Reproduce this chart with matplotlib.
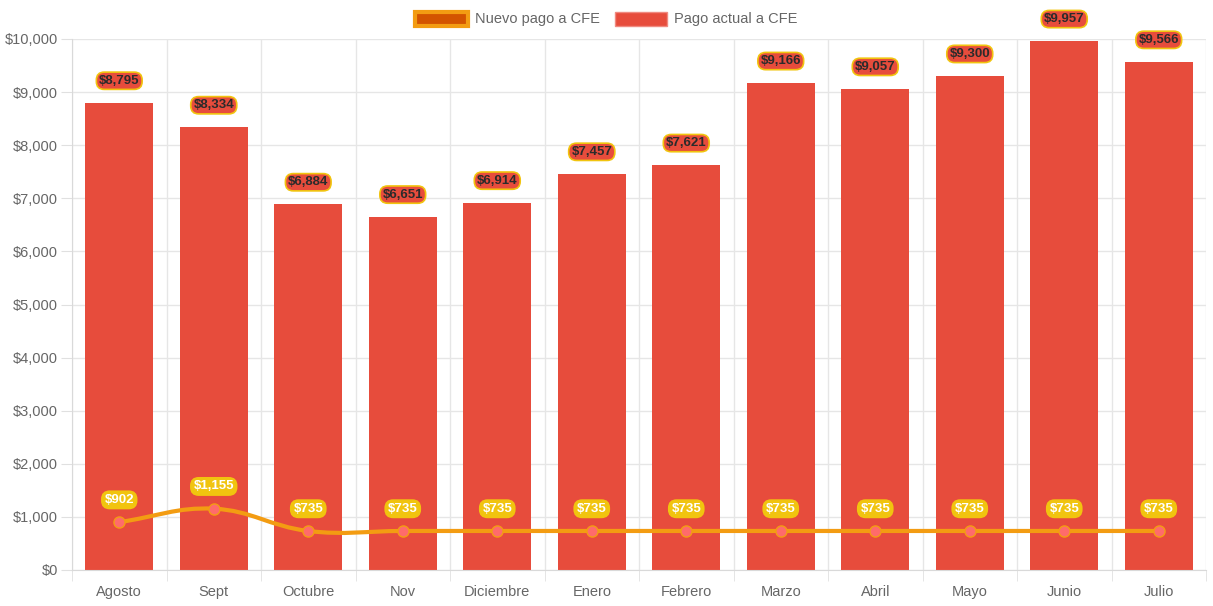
import numpy as np
import matplotlib
matplotlib.use("Agg")
import matplotlib.pyplot as plt
from matplotlib.path import Path
from matplotlib.patches import PathPatch, Patch

plt.rcParams['font.family'] = ['Liberation Sans', 'DejaVu Sans']

meses = ["Agosto", "Sept", "Octubre", "Nov", "Diciembre", "Enero", "Febrero",
         "Marzo", "Abril", "Mayo", "Junio", "Julio"]
pago_actual = [8795, 8334, 6884, 6651, 6914, 7457, 7621, 9166, 9057, 9300, 9957, 9566]
pago_nuevo = [902, 1155, 735, 735, 735, 735, 735, 735, 735, 735, 735, 735]
y_ticks = [0, 1000, 2000, 3000, 4000, 5000, 6000, 7000, 8000, 9000, 10000]

W, H = 1213, 606
fig = plt.figure(figsize=(W / 100, H / 100), dpi=100)
ax = fig.add_axes([72 / W, 36 / H, 1134 / W, 531 / H])

x = np.arange(len(meses))
ax.bar(x, pago_actual, width=0.72, color="#e74c3c", zorder=2)

# spline like chart.js (tension 0.4), computed in pixel space
px_per_x = 1134 / len(meses)
px_per_y = 531 / 10000
P = np.column_stack([x * px_per_x, np.array(pago_nuevo) * px_per_y])
t = 0.4
ctrl_prev, ctrl_next = [], []
for i in range(len(P)):
    prev = P[i - 1] if i > 0 else P[i]
    nxt = P[i + 1] if i < len(P) - 1 else P[i]
    d01 = np.hypot(*(P[i] - prev))
    d12 = np.hypot(*(nxt - P[i]))
    s = d01 + d12
    s01 = d01 / s if s else 0
    s12 = d12 / s if s else 0
    ctrl_prev.append(P[i] - t * s01 * (nxt - prev))
    ctrl_next.append(P[i] + t * s12 * (nxt - prev))
verts = [P[0]]
codes = [Path.MOVETO]
for i in range(len(P) - 1):
    verts += [ctrl_next[i], ctrl_prev[i + 1], P[i + 1]]
    codes += [Path.CURVE4] * 3
verts = np.array(verts)
verts[:, 0] /= px_per_x
verts[:, 1] /= px_per_y
ax.add_patch(PathPatch(Path(verts, codes), fill=False, edgecolor="#f39c12",
                       lw=3, zorder=3, capstyle="round"))
ax.plot(x, pago_nuevo, linestyle="none", marker="o", ms=8,
        mfc="#ff6b6b", mec="#f39c12", mew=1, zorder=4)

# data labels
for xi, v in zip(x, pago_actual):
    ax.annotate("${:,}".format(v), (xi, v), xytext=(0, 16), textcoords="offset points",
                ha="center", va="center", fontsize=9.5, fontweight="bold", color="#2b2b2b",
                bbox=dict(boxstyle="round,pad=0.2,rounding_size=0.6", fc="#e74c3c",
                          ec="#f1c40f", lw=1.2), zorder=5)
for xi, v in zip(x, pago_nuevo):
    ax.annotate("${:,}".format(v), (xi, v), xytext=(0, 16), textcoords="offset points",
                ha="center", va="center", fontsize=9.5, fontweight="bold", color="white",
                bbox=dict(boxstyle="round,pad=0.2,rounding_size=0.6", fc="#f1c40f",
                          ec="#f1c40f", lw=1.2), zorder=5)

ax.set_xlim(-0.5, len(meses) - 0.5)
ax.set_ylim(0, 10000)
ax.set_yticks(y_ticks)
ax.set_yticklabels(["${:,}".format(v) for v in y_ticks])
ax.set_xticks(x)
ax.set_xticklabels(meses)
ax.set_xticks(np.arange(-0.5, len(meses)), minor=True)
ax.tick_params(axis="x", which="major", length=0, pad=11, labelsize=10.5, colors="#666666")
ax.tick_params(axis="x", which="minor", length=8, color="#e0e0e0")
ax.tick_params(axis="y", length=8, color="#e0e0e0", labelsize=10.5, labelcolor="#666666", pad=2)
ax.grid(axis="y", color="#e6e6e6", lw=1, zorder=0)
ax.grid(axis="x", which="minor", color="#e6e6e6", lw=1, zorder=0)
ax.set_axisbelow(True)
for sp in ["top", "right"]:
    ax.spines[sp].set_visible(False)
ax.spines["left"].set_color("#d9d9d9")
ax.spines["bottom"].set_color("#d9d9d9")

handles = [Patch(fc="#d35400", ec="#f39c12", lw=3, label="Nuevo pago a CFE"),
           Patch(fc="#e74c3c", ec="#f08a80", lw=1, label="Pago actual a CFE")]
fig.legend(handles=handles, loc="center", bbox_to_anchor=(0.5, 1 - 19 / H), ncol=2,
           frameon=False, fontsize=10.5, handlelength=3.6, handleheight=1.1,
           columnspacing=1.0, handletextpad=0.5, labelcolor="#666666")

fig.savefig("out.png", dpi=100)
